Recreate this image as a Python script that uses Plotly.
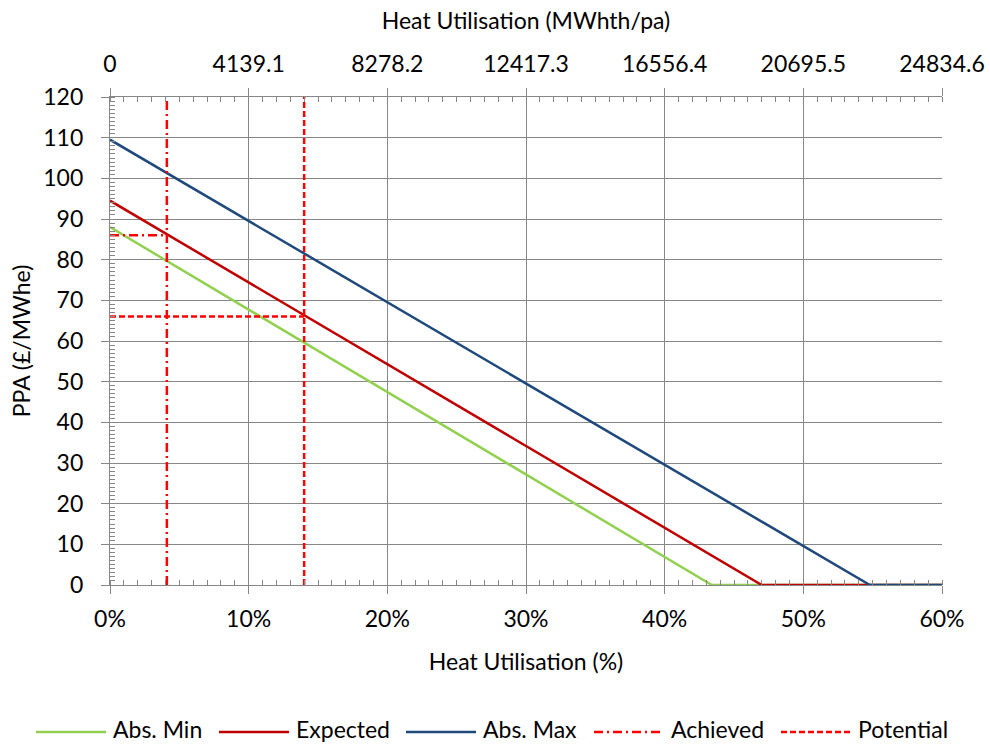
import plotly.graph_objects as go

# PPA (£/MWhe) against heat utilisation (%) for each scenario (break points)
abs_min_util = [0, 43.4, 60]
abs_min_ppa = [88, 0, 0]
expected_util = [0, 47.0, 60]
expected_ppa = [94.5, 0, 0]
abs_max_util = [0, 54.8, 60]
abs_max_ppa = [109.5, 0, 0]

# Reference points: utilisation reached and resulting PPA
achieved_util = 4.1
achieved_ppa = 86
potential_util = 14.0
potential_ppa = 66

# Axis ticks
pct_ticks = [0, 10, 20, 30, 40, 50, 60]
pct_labels = ["0%", "10%", "20%", "30%", "40%", "50%", "60%"]
ppa_ticks = [0, 10, 20, 30, 40, 50, 60, 70, 80, 90, 100, 110, 120]
heat_mwh_ticks = [0, 4139.1, 8278.2, 12417.3, 16556.4, 20695.5, 24834.6]
heat_mwh_labels = ["0", "4139.1", "8278.2", "12417.3", "16556.4", "20695.5", "24834.6"]

series_names = ["Abs. Min", "Expected", "Abs. Max", "Achieved", "Potential"]
series_colors = ["#92D050", "#C00000", "#1F497D", "#FF0000", "#FF0000"]
series_dash = ["solid", "solid", "solid", "9px,4px,2px,4px", "6px,3px"]

W, H = 990, 744
L, R, T, B = 110, 48, 97, 159
FONT = "Lato"
GRID = "#878787"
LW = 2.5

fig = go.Figure()

scenario_data = [
    (abs_min_util, abs_min_ppa),
    (expected_util, expected_ppa),
    (abs_max_util, abs_max_ppa),
]
for i, (xs, ys) in enumerate(scenario_data):
    fig.add_trace(go.Scatter(
        x=xs, y=ys, mode="lines", name=series_names[i], showlegend=False,
        line=dict(color=series_colors[i], width=LW, dash=series_dash[i]),
    ))

# Vertical line at the utilisation level plus horizontal guide to the PPA axis
for i, (ux, py) in zip((3, 4), ((achieved_util, achieved_ppa), (potential_util, potential_ppa))):
    fig.add_trace(go.Scatter(
        x=[0, ux, None, ux, ux], y=[py, py, None, 0, ppa_ticks[-1]],
        mode="lines", name=series_names[i], showlegend=False,
        line=dict(color=series_colors[i], width=LW, dash=series_dash[i]),
    ))

# Carrier trace for the MWhth axis along the top
fig.add_trace(go.Scatter(
    x=heat_mwh_ticks, y=[None] * len(heat_mwh_ticks), xaxis="x2",
    mode="lines", showlegend=False, hoverinfo="skip",
))

tick_font = dict(family=FONT, size=23, color="#000000")
legend_font = dict(family=FONT, size=23, color="#000000")

fig.update_layout(
    width=W, height=H,
    margin=dict(l=L, r=R, t=T, b=B, pad=0, autoexpand=False),
    paper_bgcolor="white", plot_bgcolor="white",
    font=tick_font,
    showlegend=False,
    xaxis=dict(
        range=[0, 60], tickvals=pct_ticks, ticktext=pct_labels,
        automargin=False,
        showgrid=True, gridcolor=GRID, gridwidth=1.3,
        showline=True, linecolor=GRID, linewidth=1.3, zeroline=False,
        ticks="outside", ticklen=8, tickcolor=GRID, tickwidth=1.3,
        ticklabelstandoff=5,
        minor=dict(dtick=1, tick0=0, ticks="inside", ticklen=5,
                   tickcolor=GRID, tickwidth=1.3, showgrid=False),
        title=dict(text="Heat Utilisation (%)", font=tick_font, standoff=23),
    ),
    xaxis2=dict(
        range=[0, heat_mwh_ticks[-1]], overlaying="x", side="top", anchor="y",
        tickvals=heat_mwh_ticks, ticktext=heat_mwh_labels,
        automargin=False,
        showgrid=False, showline=True, linecolor=GRID, linewidth=1.3,
        zeroline=False,
        ticks="outside", ticklen=8, tickcolor=GRID, tickwidth=1.3,
        ticklabelstandoff=7,
        minor=dict(dtick=heat_mwh_ticks[1] / 10, tick0=0, ticks="inside",
                   ticklen=5, tickcolor=GRID, tickwidth=1.3, showgrid=False),
        title=dict(text="Heat Utilisation (MWhth/pa)", font=tick_font, standoff=12),
    ),
    yaxis=dict(
        range=[0, 120], tickvals=ppa_ticks,
        automargin=False,
        showgrid=True, gridcolor=GRID, gridwidth=1.3,
        showline=True, linecolor=GRID, linewidth=1.3, zeroline=False,
        ticks="outside", ticklen=8, tickcolor=GRID, tickwidth=1.3,
        ticklabelstandoff=13,
        minor=dict(dtick=1, tick0=0, ticks="inside", ticklen=5,
                   tickcolor=GRID, tickwidth=1.3, showgrid=False),
        title=dict(text="PPA (£/MWhe)", font=tick_font, standoff=6),
    ),
)

# Legend row beneath the chart: line sample followed by its label
plot_w = W - L - R
plot_h = H - T - B


def px_x(x):
    return (x - L) / plot_w


def px_y(y):
    return (H - B - y) / plot_h


legend_text_x = [113, 296, 483, 671, 858]
legend_y = 729
for name, color, dash, tx in zip(series_names, series_colors, series_dash, legend_text_x):
    fig.add_shape(
        type="line", xref="paper", yref="paper",
        x0=px_x(tx - 77), x1=px_x(tx - 7), y0=px_y(legend_y + 3), y1=px_y(legend_y + 3),
        line=dict(color=color, width=LW, dash=dash),
    )
    fig.add_annotation(
        x=px_x(tx - 2), y=px_y(legend_y), xref="paper", yref="paper",
        text=name, showarrow=False, xanchor="left", yanchor="middle",
        font=legend_font,
    )

fig.write_html("out.html")
